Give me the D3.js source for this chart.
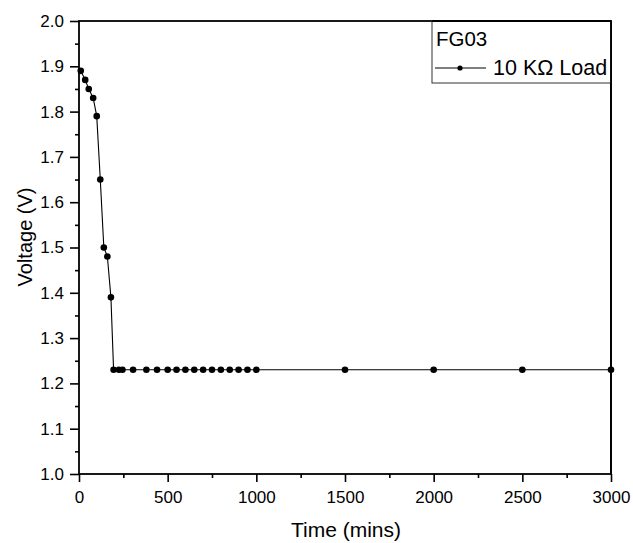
<!DOCTYPE html>
<html><head><meta charset="utf-8">
<script src="https://cdn.jsdelivr.net/npm/d3@7/dist/d3.min.js"></script>
<style>
body{margin:0;background:#fff;}
text{font-family:"Liberation Sans",Arial,sans-serif;fill:#000;}
</style></head>
<body><svg id="c" width="633" height="543"></svg>
<script>
const timeMins = [10, 35, 55, 80, 100, 120, 140, 160, 180, 195, 225, 245, 305, 380, 440, 500, 550, 600, 650, 700, 750, 800, 850, 900, 950, 1000, 1500, 2000, 2500, 3000];
const voltage  = [1.89, 1.87, 1.85, 1.83, 1.79, 1.65, 1.50, 1.48, 1.39, 1.23, 1.23, 1.23, 1.23, 1.23, 1.23, 1.23, 1.23, 1.23, 1.23, 1.23, 1.23, 1.23, 1.23, 1.23, 1.23, 1.23, 1.23, 1.23, 1.23, 1.23];
const xTicks = [0, 500, 1000, 1500, 2000, 2500, 3000];
const yTicks = [1.0, 1.1, 1.2, 1.3, 1.4, 1.5, 1.6, 1.7, 1.8, 1.9, 2.0];
const legendTitle = "FG03";
const seriesName = "10 KΩ Load";

const svg = d3.select("#c");
const L = 79, R = 611, T = 21, B = 474;
const x = d3.scaleLinear().domain([0, 3000]).range([L, R]);
const y = d3.scaleLinear().domain([1.0, 2.0]).range([B, T]);

// minor ticks
const xMinor = d3.range(250, 3000, 500);
const yMinor = d3.range(1.05, 2.0, 0.1);

const gx = svg.append("g").attr("transform", `translate(0,${B})`)
  .call(d3.axisBottom(x).tickValues(xTicks).tickFormat(d3.format("d")).tickSize(8).tickPadding(9));
gx.select(".domain").remove();
gx.selectAll("line").attr("stroke", "#000").attr("stroke-width", 1.6);
gx.selectAll("text").attr("font-size", 17).attr("fill", "#000");
const gxm = svg.append("g").attr("transform", `translate(0,${B})`)
  .call(d3.axisBottom(x).tickValues(xMinor).tickFormat("").tickSize(4));
gxm.select(".domain").remove();
gxm.selectAll("line").attr("stroke", "#000").attr("stroke-width", 1.6);

const gy = svg.append("g").attr("transform", `translate(${L},0)`)
  .call(d3.axisLeft(y).tickValues(yTicks).tickFormat(d3.format(".1f")).tickSize(9).tickPadding(6));
gy.select(".domain").remove();
gy.selectAll("line").attr("stroke", "#000").attr("stroke-width", 1.6);
gy.selectAll("text").attr("font-size", 17).attr("fill", "#000");
const gym = svg.append("g").attr("transform", `translate(${L},0)`)
  .call(d3.axisLeft(y).tickValues(yMinor).tickFormat("").tickSize(4));
gym.select(".domain").remove();
gym.selectAll("line").attr("stroke", "#000").attr("stroke-width", 1.6);

// frame
svg.append("rect").attr("x", L).attr("y", T).attr("width", R - L).attr("height", B - T)
  .attr("fill", "none").attr("stroke", "#000").attr("stroke-width", 1.8);

// data
const pts = timeMins.map((t, i) => [t, voltage[i]]);
svg.append("path").datum(pts)
  .attr("d", d3.line().x(d => x(d[0])).y(d => y(d[1])))
  .attr("fill", "none").attr("stroke", "#000").attr("stroke-width", 1.1);
svg.append("g").selectAll("circle").data(pts).join("circle")
  .attr("cx", d => x(d[0])).attr("cy", d => y(d[1])).attr("r", 3.3).attr("fill", "#000");

// axis titles
svg.append("text").attr("x", 346).attr("y", 537).attr("text-anchor", "middle")
  .attr("font-size", 21).text("Time (mins)");
svg.append("text").attr("transform", `translate(32,237) rotate(-90)`)
  .attr("text-anchor", "middle").attr("font-size", 20).text("Voltage (V)");

// legend
const lg = svg.append("g");
lg.append("rect").attr("x", 432).attr("y", T).attr("width", R - 432).attr("height", 62)
  .attr("fill", "#fff").attr("stroke", "#333").attr("stroke-width", 1);
lg.append("text").attr("x", 436).attr("y", 46).attr("font-size", 20.5).text(legendTitle);
lg.append("line").attr("x1", 435).attr("x2", 486).attr("y1", 68).attr("y2", 68)
  .attr("stroke", "#000").attr("stroke-width", 1.1);
lg.append("circle").attr("cx", 460).attr("cy", 68).attr("r", 2.6).attr("fill", "#000");
lg.append("text").attr("x", 493).attr("y", 75).attr("font-size", 21.5).text(seriesName);
// redraw top/right frame over legend
svg.append("line").attr("x1", 432).attr("x2", R).attr("y1", T).attr("y2", T).attr("stroke", "#000").attr("stroke-width", 1.8);
svg.append("line").attr("x1", R).attr("x2", R).attr("y1", T).attr("y2", B).attr("stroke", "#000").attr("stroke-width", 1.8);
</script></body></html>
